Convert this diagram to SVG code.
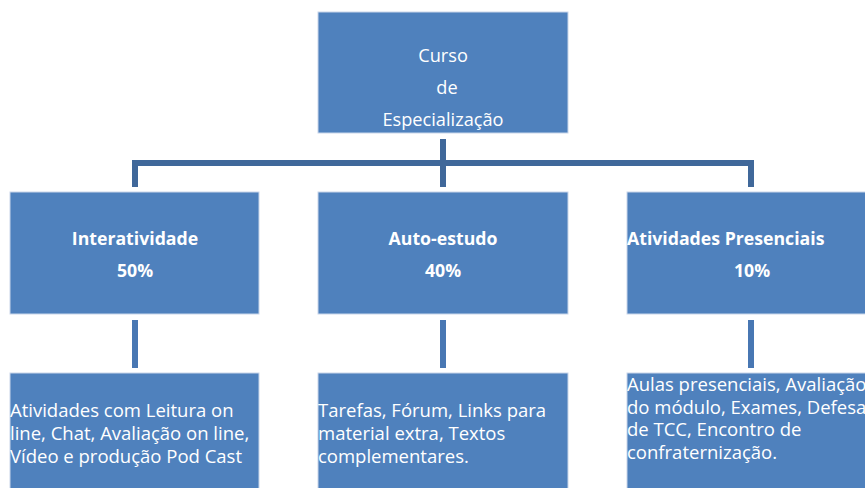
<svg xmlns="http://www.w3.org/2000/svg" width="865" height="488" viewBox="0 0 865 488">
<style>
.box{fill:#4f81bd;stroke:#c9d6ea;stroke-width:1}
.t{font-family:"Open Sans","Liberation Sans",Arial,sans-serif;font-size:18.5px;fill:#ffffff}
.s{font-size:18.2px}
.b{font-weight:bold;font-size:17.7px}
.c{text-anchor:middle}
.top{stroke:#40689a;stroke-width:6;fill:none}
.low{stroke:#4877b3;stroke-width:6;fill:none}
</style>
<rect width="865" height="488" fill="#ffffff"/>
<g id="connectors">
<line class="top" x1="443" y1="139" x2="443" y2="187"/>
<line class="top" x1="133" y1="163" x2="754" y2="163"/>
<line class="top" x1="135" y1="160" x2="135" y2="187"/>
<line class="top" x1="751" y1="160" x2="751" y2="187"/>
<line class="low" x1="135" y1="320" x2="135" y2="368"/>
<line class="low" x1="443" y1="320" x2="443" y2="368"/>
<line class="low" x1="751" y1="320" x2="751" y2="368"/>
</g>
<g id="curso">
<rect class="box" x="318" y="12" width="250" height="121"/>
<text class="t s c" x="443" y="62">Curso</text>
<text class="t s c" x="447" y="94">de</text>
<text class="t s c" x="443" y="126">Especialização</text>
</g>
<g id="interatividade">
<rect class="box" x="10" y="192" width="249" height="122"/>
<text class="t b c" x="135" y="245">Interatividade</text>
<text class="t b c" x="135" y="277">50%</text>
</g>
<g id="autoestudo">
<rect class="box" x="318" y="192" width="250" height="122"/>
<text class="t b c" x="443" y="245">Auto-estudo</text>
<text class="t b c" x="443" y="277">40%</text>
</g>
<g id="presenciais">
<rect class="box" x="627" y="192" width="250" height="122"/>
<text class="t b" x="627" y="245">Atividades Presenciais</text>
<text class="t b c" x="752" y="277">10%</text>
</g>
<g id="desc1">
<rect class="box" x="10" y="373" width="249" height="120"/>
<text class="t" x="10" y="417">Atividades com Leitura on</text>
<text class="t" x="10" y="440">line, Chat, Avaliação on line,</text>
<text class="t" x="10" y="463">Vídeo e produção Pod Cast</text>
</g>
<g id="desc2">
<rect class="box" x="318" y="373" width="250" height="120"/>
<text class="t" x="318" y="417">Tarefas, Fórum, Links para</text>
<text class="t" x="318" y="440">material extra, Textos</text>
<text class="t" x="318" y="463">complementares.</text>
</g>
<g id="desc3">
<rect class="box" x="627" y="373" width="250" height="120"/>
<text class="t" x="627" y="391">Aulas presenciais, Avaliação</text>
<text class="t" x="627" y="413.5">do módulo, Exames, Defesa</text>
<text class="t" x="627" y="436">de TCC, Encontro de</text>
<text class="t" x="627" y="458.5">confraternização.</text>
</g>
</svg>
